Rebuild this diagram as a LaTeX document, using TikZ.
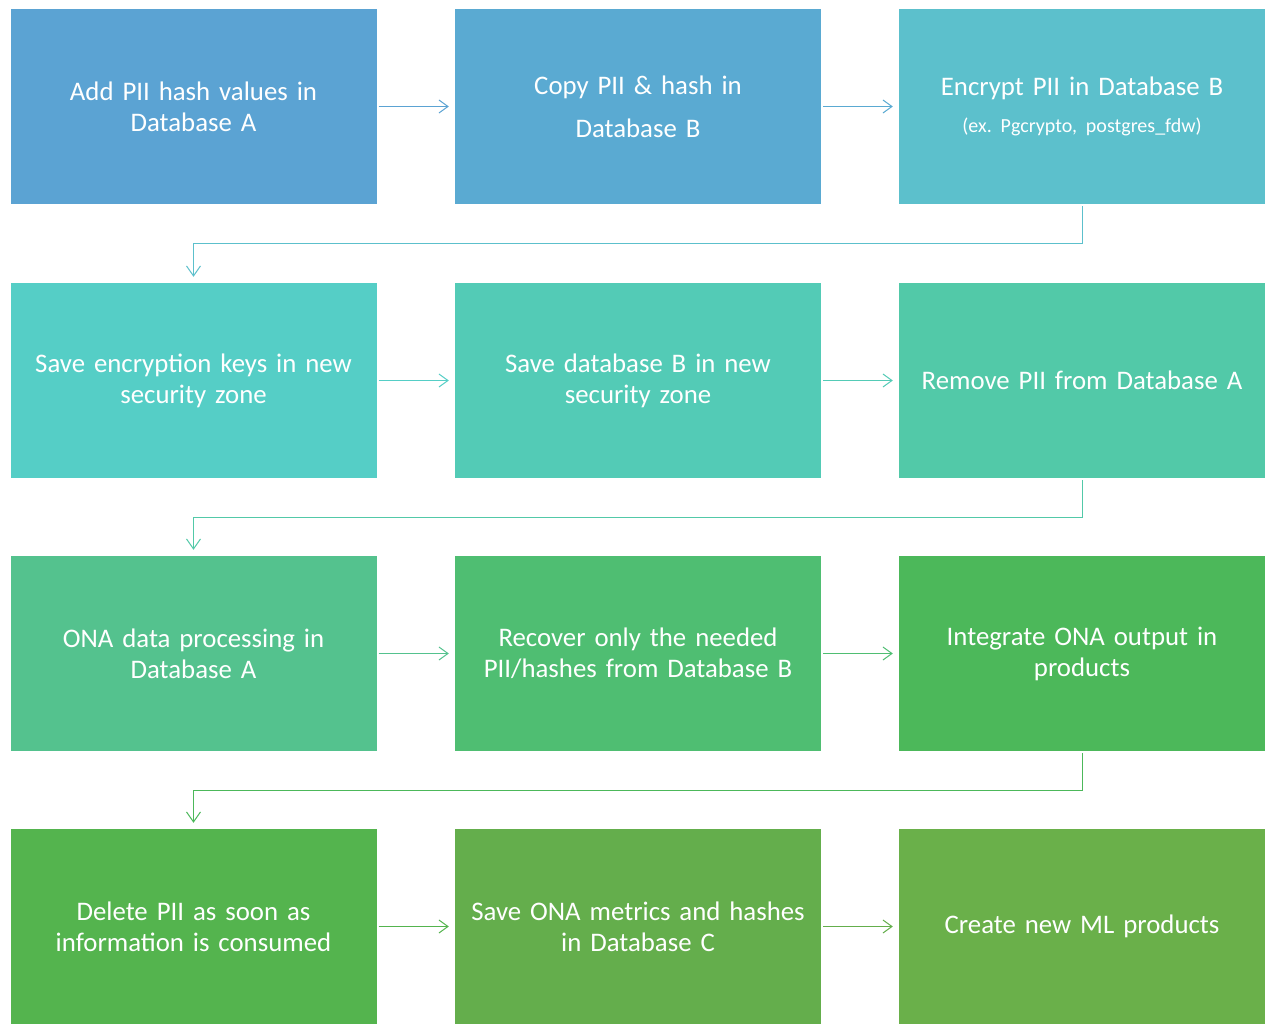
\documentclass[tikz,border=0pt]{standalone}
\usepackage{fontspec}
\setmainfont{Carlito}
\usetikzlibrary{arrows.meta}
\definecolor{c1}{HTML}{5BA3D3}
\definecolor{c2}{HTML}{5AAAD2}
\definecolor{c3}{HTML}{5CC0CC}
\definecolor{c4}{HTML}{55CEC6}
\definecolor{c5}{HTML}{53CBB6}
\definecolor{c6}{HTML}{52C9A8}
\definecolor{c7}{HTML}{54C28E}
\definecolor{c8}{HTML}{4FBE72}
\definecolor{c9}{HTML}{4CB85A}
\definecolor{c10}{HTML}{54B44E}
\definecolor{c11}{HTML}{64AE4C}
\definecolor{c12}{HTML}{6AB04A}
\tikzset{
  box/.style={fill=#1, draw=none, text=white, minimum width=366pt, minimum height=195pt,
    inner sep=0pt, align=center, text width=364pt,
    font=\fontsize{26.8}{31}\selectfont},
  harrow/.style={draw=#1, line width=1pt, -{Straight Barb[length=9pt,width=13pt,line width=1pt]},
    shorten <=2pt, shorten >=6pt},
  varrow/.style={draw=#1, line width=1pt, -{Straight Barb[length=10pt,width=14pt,line width=1pt]},
    shorten <=2pt, shorten >=6pt},
}
\begin{document}
\frenchspacing
\begin{tikzpicture}[x=1pt, y=-1pt]
\useasboundingbox (0,0) rectangle (1276,1035);
\fill[white] (0,0) rectangle (1276,1035);
% row 1
\node[box=c1] (b1) at (193.5,106.5) {Add PII hash values in\\Database A};
\node[box=c2, font=\fontsize{26.8}{43}\selectfont] (b2) at (638,106.5) {Copy PII \& hash in\\Database B};
\node[box=c3] (b3) at (1082,106.5) {Encrypt PII in Database B\\[6pt]{\fontsize{20}{22}\selectfont (ex. Pgcrypto, postgres\_fdw)}};
% row 2
\node[box=c4] (b4) at (193.5,380.5) {Save encryption keys in new\\security zone};
\node[box=c5] (b5) at (638,380.5) {Save database B in new\\security zone};
\node[box=c6] (b6) at (1082,380.5) {Remove PII from Database A};
% row 3
\node[box=c7] (b7) at (193.5,653.5) {ONA data processing in\\Database A};
\node[box=c8] (b8) at (638,653.5) {Recover only the needed\\PII/hashes from Database B};
\node[box=c9] (b9) at (1082,653.5) {Integrate ONA output in\\products};
% row 4
\node[box=c10] (b10) at (193.5,926.5) {Delete PII as soon as\\information is consumed};
\node[box=c11] (b11) at (638,926.5) {Save ONA metrics and hashes\\in Database C};
\node[box=c12] (b12) at (1082,926.5) {Create new ML products};
% horizontal arrows
\draw[harrow=c1] (b1) -- (b2);
\draw[harrow=c2] (b2) -- (b3);
\draw[harrow=c4] (b4) -- (b5);
\draw[harrow=c5] (b5) -- (b6);
\draw[harrow=c7] (b7) -- (b8);
\draw[harrow=c8] (b8) -- (b9);
\draw[harrow=c10] (b10) -- (b11);
\draw[harrow=c11] (b11) -- (b12);
% elbow arrows
\draw[varrow=c3] (b3.south) -- ++(0,39) -| (b4.north);
\draw[varrow=c6] (b6.south) -- ++(0,39) -| (b7.north);
\draw[varrow=c9] (b9.south) -- ++(0,39) -| (b10.north);
\end{tikzpicture}
\end{document}
